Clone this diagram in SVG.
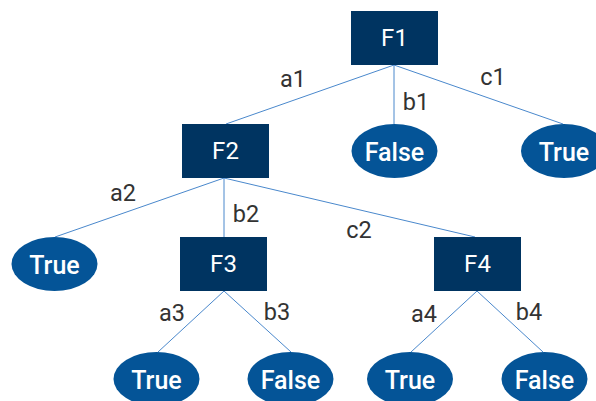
<svg xmlns="http://www.w3.org/2000/svg" width="596" height="401" viewBox="0 0 596 401">
<style>
.box{fill:#003461}
.leaf{fill:#045497}
.nt{font-family:Roboto,"Liberation Sans",sans-serif;font-size:24px;fill:#fff;text-anchor:middle;dominant-baseline:central}
.lt{font-family:Roboto,"Liberation Sans",sans-serif;font-size:25px;font-weight:500;fill:#fff;text-anchor:middle;dominant-baseline:central}
.el{font-family:Roboto,"Liberation Sans",sans-serif;font-size:23.5px;fill:#333;text-anchor:middle;dominant-baseline:central}
.c{stroke:#4a88cc;stroke-width:1;fill:none}
</style>
<rect width="596" height="401" fill="#fff"/>
<g id="connectors">
<line class="c" x1="394" y1="65" x2="226" y2="124"/>
<line class="c" x1="394" y1="65" x2="394" y2="124"/>
<line class="c" x1="394" y1="65" x2="563" y2="124"/>
<line class="c" x1="224" y1="178" x2="55" y2="237"/>
<line class="c" x1="224" y1="178" x2="224" y2="237"/>
<line class="c" x1="224" y1="178" x2="475" y2="237"/>
<line class="c" x1="224" y1="291" x2="158" y2="352"/>
<line class="c" x1="224" y1="291" x2="291" y2="352"/>
<line class="c" x1="477" y1="291" x2="411" y2="352"/>
<line class="c" x1="477" y1="291" x2="543" y2="352"/>
<text class="el" x="293" y="79">a1</text>
<text class="el" x="416" y="102">b1</text>
<text class="el" x="493" y="77">c1</text>
<text class="el" x="123" y="193">a2</text>
<text class="el" x="246" y="214">b2</text>
<text class="el" x="359" y="230">c2</text>
<text class="el" x="172" y="313">a3</text>
<text class="el" x="277" y="312">b3</text>
<text class="el" x="424" y="314">a4</text>
<text class="el" x="529" y="312">b4</text>
</g>
<g id="F1"><rect class="box" x="351" y="11" width="87" height="54"/><text class="nt" x="394.5" y="38">F1</text></g>
<g id="F2"><rect class="box" x="182" y="124" width="87" height="54"/><text class="nt" x="225.5" y="151">F2</text></g>
<g id="F3"><rect class="box" x="180" y="237" width="87" height="54"/><text class="nt" x="223.5" y="264">F3</text></g>
<g id="F4"><rect class="box" x="434" y="237" width="87" height="54"/><text class="nt" x="477.5" y="264">F4</text></g>
<g id="L1"><ellipse class="leaf" cx="394.5" cy="151" rx="43" ry="27"/><text class="lt" x="394.5" y="152">False</text></g>
<g id="L2"><ellipse class="leaf" cx="564" cy="151" rx="43" ry="27"/><text class="lt" x="564" y="152">True</text></g>
<g id="L3"><ellipse class="leaf" cx="54.5" cy="264" rx="43" ry="27"/><text class="lt" x="54.5" y="265">True</text></g>
<g id="L4"><ellipse class="leaf" cx="156.5" cy="379" rx="43" ry="27"/><text class="lt" x="156.5" y="380">True</text></g>
<g id="L5"><ellipse class="leaf" cx="290.5" cy="379" rx="43" ry="27"/><text class="lt" x="290.5" y="380">False</text></g>
<g id="L6"><ellipse class="leaf" cx="410" cy="379" rx="43" ry="27"/><text class="lt" x="410" y="380">True</text></g>
<g id="L7"><ellipse class="leaf" cx="544.5" cy="379" rx="43" ry="27"/><text class="lt" x="544.5" y="380">False</text></g>
</svg>
